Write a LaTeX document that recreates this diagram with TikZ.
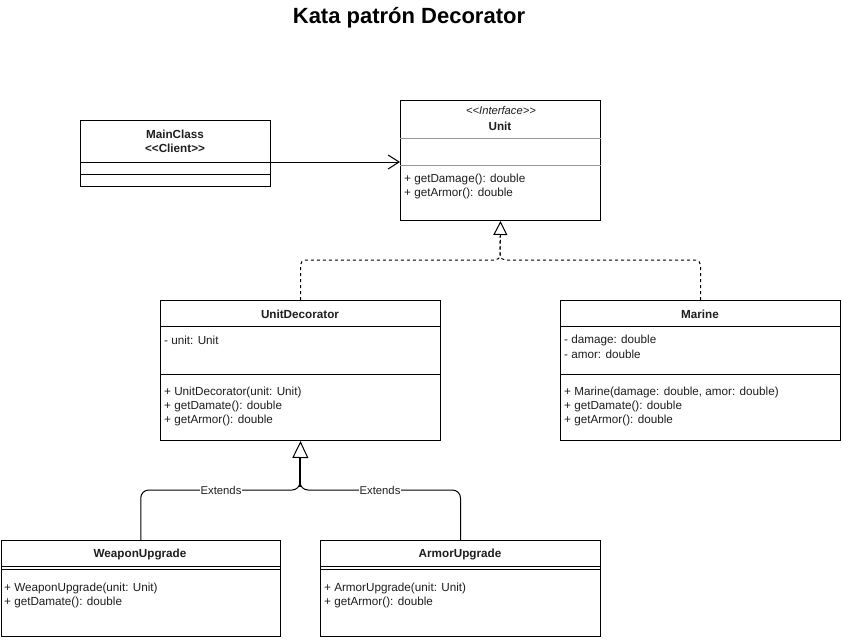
\documentclass[tikz,border=0pt]{standalone}
\usepackage{fontspec}
\setmainfont{Liberation Sans}
\usetikzlibrary{arrows.meta}
\definecolor{sepgray}{RGB}{150,150,150}
\definecolor{txtgray}{RGB}{30,30,30}
\begin{document}
\begin{tikzpicture}[x=1pt,y=-1pt,
  umlbox/.style={draw=black, line width=1pt, rectangle, anchor=north west, inner sep=0pt, fill=white},
  txt/.style={anchor=west, inner sep=0pt, font=\fontsize{11.7}{13}\selectfont, text=txtgray},
  hdr/.style={inner sep=0pt, font=\bfseries\fontsize{11.7}{13}\selectfont, text=txtgray},
  sep/.style={line width=1pt},
  lbl/.style={fill=white, inner sep=0.5pt, font=\fontsize{11.3}{12}\selectfont, text=txtgray},
  edge/.style={line width=1pt},
]
\useasboundingbox (0,0) rectangle (842,640);

% title
\node[font=\bfseries\fontsize{22}{26}\selectfont] (title) at (409,17.5) {Kata patrón Decorator};

% MainClass
\node[umlbox, minimum width=190pt, minimum height=66pt] (main) at (80,120) {};
\node[hdr] (mainT) at (175,134) {MainClass};
\node[hdr] (mainS) at (175,148) {<{}<Client>{}>};
\draw[sep] (main.west |- 0,162) -- (main.east |- 0,162);
\draw[sep] (main.west |- 0,174) -- (main.east |- 0,174);

% Unit
\node[umlbox, minimum width=200pt, minimum height=120pt] (unit) at (400,100) {};
\node[inner sep=0pt, font=\itshape\fontsize{11.2}{12}\selectfont, text=txtgray] (unitS) at (501,110.5) {<{}<Interface>{}>};
\node[hdr] (unitT) at (500,126) {Unit};
\draw[line width=1pt, sepgray] (unit.west |- 0,138) -- (unit.east |- 0,138);
\draw[line width=1pt, sepgray] (unit.west |- 0,165) -- (unit.east |- 0,165);
\node[txt] (unitM1) at (404,179) {+ getDamage(): double};
\node[txt] (unitM2) at (404,193) {+ getArmor(): double};

% UnitDecorator
\node[umlbox, minimum width=280pt, minimum height=140pt] (udec) at (160,300) {};
\node[hdr] (udecT) at (300,314) {UnitDecorator};
\draw[sep] (udec.west |- 0,326) -- (udec.east |- 0,326);
\node[txt] (udecA1) at (164,340) {- unit: Unit};
\draw[sep] (udec.west |- 0,374) -- (udec.east |- 0,374);
\node[txt] (udecM1) at (164,392) {+ UnitDecorator(unit: Unit)};
\node[txt] (udecM2) at (164,406) {+ getDamate(): double};
\node[txt] (udecM3) at (164,420) {+ getArmor(): double};

% Marine
\node[umlbox, minimum width=280pt, minimum height=140pt] (mar) at (560,300) {};
\node[hdr] (marT) at (700,314) {Marine};
\draw[sep] (mar.west |- 0,326) -- (mar.east |- 0,326);
\node[txt] (marA1) at (564,340) {- damage: double};
\node[txt] (marA2) at (564,354) {- amor: double};
\draw[sep] (mar.west |- 0,374) -- (mar.east |- 0,374);
\node[txt] (marM1) at (564,392) {+ Marine(damage: double, amor: double)};
\node[txt] (marM2) at (564,406) {+ getDamate(): double};
\node[txt] (marM3) at (564,420) {+ getArmor(): double};

% WeaponUpgrade
\node[umlbox, minimum width=279.5pt, minimum height=96pt] (weap) at (0.5,540) {};
\node[hdr] (weapT) at (140,554) {WeaponUpgrade};
\draw[sep] (weap.west |- 0,566) -- (weap.east |- 0,566);
\draw[sep] (weap.west |- 0,569) -- (weap.east |- 0,569);
\node[txt] (weapM1) at (4,588) {+ WeaponUpgrade(unit: Unit)};
\node[txt] (weapM2) at (4,602) {+ getDamate(): double};

% ArmorUpgrade
\node[umlbox, minimum width=280pt, minimum height=96pt] (arm) at (320,540) {};
\node[hdr] (armT) at (460,554) {ArmorUpgrade};
\draw[sep] (arm.west |- 0,566) -- (arm.east |- 0,566);
\draw[sep] (arm.west |- 0,569) -- (arm.east |- 0,569);
\node[txt] (armM1) at (324,588) {+ ArmorUpgrade(unit: Unit)};
\node[txt] (armM2) at (324,602) {+ getArmor(): double};

% association MainClass -> Unit
\coordinate (assocS) at (main.east |- 0,162);
\coordinate (assocE) at (unit.west |- 0,162);
\draw[edge, -{Straight Barb[length=11pt,width=14pt,line width=1pt]}] (assocS) -- (assocE);

% realization (dashed)
\coordinate (realJ) at (500,260);
\draw[edge, dash pattern=on 3pt off 3pt, rounded corners=5pt, -{Triangle[open,length=14pt,width=14pt,line width=1pt]}]
  (udec.north) -- (udec.north |- realJ) -- (realJ) -- (unit.south);
\draw[edge, dash pattern=on 3pt off 3pt, rounded corners=5pt]
  (mar.north) -- (mar.north |- realJ) -- (realJ) -- (500,236);

% generalization (extends)
\coordinate (genJ) at (300,490);
\draw[edge, rounded corners=8pt, -{Triangle[open,length=17pt,width=16pt,line width=1pt]}]
  (weap.north) -- (weap.north |- genJ) -- (genJ) -- (udec.south);
\draw[edge, rounded corners=8pt]
  (arm.north) -- (arm.north |- genJ) -- (genJ) -- (300,458);
\draw[line width=1.6pt] (300,458) -- (300,487);
\node[lbl] (ext1) at (221,490) {Extends};
\node[lbl] (ext2) at (380,490) {Extends};
\end{tikzpicture}
\end{document}
